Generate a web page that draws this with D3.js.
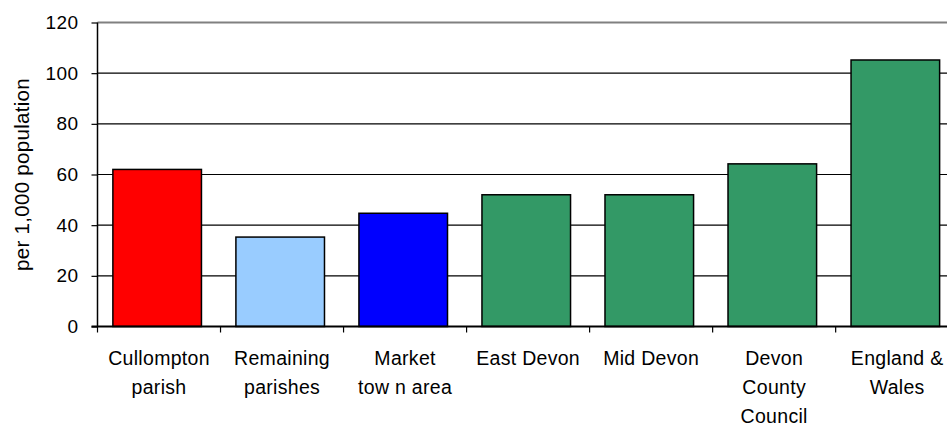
<!DOCTYPE html>
<html>
<head>
<meta charset="utf-8">
<script src="https://cdn.jsdelivr.net/npm/d3@7"></script>
<style>
  html, body { margin: 0; padding: 0; background: #fff; }
  svg { display: block; }
  text { font-family: "Liberation Sans", Arial, sans-serif; fill: #000; }
</style>
</head>
<body>
<svg id="chart" width="947" height="428"></svg>
<script>
// ---- Data ----
const categories = [
  ["Cullompton", "parish"],
  ["Remaining", "parishes"],
  ["Market", "tow n area"],
  ["East Devon"],
  ["Mid Devon"],
  ["Devon", "County", "Council"],
  ["England &", "Wales"]
];
const values = [62, 35.3, 44.7, 52, 52, 64.2, 105.2];
const barColors = ["#FF0000", "#99CCFF", "#0000FF", "#339966", "#339966", "#339966", "#339966"];
const yTicks = [0, 20, 40, 60, 80, 100, 120];
const yTitle = "per 1,000 population";

// ---- Layout ----
const svg = d3.select("#chart");
const mLeft = 97.5, mRight = 955, mTop = 22.5, mBottom = 326.5;

const x = d3.scaleBand()
  .domain(d3.range(categories.length))
  .range([mLeft, mRight])
  .paddingInner(0.28)
  .paddingOuter(0.125);

const y = d3.scaleLinear().domain([0, 120]).range([mBottom, mTop]);

// gridlines
svg.append("g")
  .selectAll("line")
  .data(yTicks.filter(d => d > 0 && d < 120))
  .join("line")
  .attr("x1", mLeft).attr("x2", mRight)
  .attr("y1", d => y(d)).attr("y2", d => y(d))
  .attr("stroke", "#000").attr("stroke-width", 1.2);

// top border (gray)
svg.append("line")
  .attr("x1", mLeft).attr("x2", mRight)
  .attr("y1", y(120)).attr("y2", y(120))
  .attr("stroke", "#808080").attr("stroke-width", 2);

// bars
svg.append("g")
  .selectAll("rect")
  .data(values)
  .join("rect")
  .attr("x", (d, i) => x(i))
  .attr("width", x.bandwidth())
  .attr("y", d => y(d))
  .attr("height", d => y(0) - y(d))
  .attr("fill", (d, i) => barColors[i])
  .attr("stroke", "#000")
  .attr("stroke-width", 1.5);

// y axis
const yAxis = d3.axisLeft(y).tickValues(yTicks).tickSize(6).tickPadding(13).tickFormat(d3.format("d"));
const gy = svg.append("g").attr("transform", `translate(${mLeft},0)`).call(yAxis);
gy.select(".domain").attr("stroke", "#000").attr("stroke-width", 1.5).attr("d", `M0,${y(120)}V${y(0)}`);
gy.selectAll(".tick line").attr("stroke", "#000").attr("stroke-width", 1.2);
gy.selectAll(".tick text")
  .attr("font-size", 19)
  .attr("letter-spacing", 0.4)
  .style("font-family", '"Liberation Sans", Arial, sans-serif')
  .attr("fill", "#000");

// x axis baseline
svg.append("line")
  .attr("x1", mLeft - 6).attr("x2", mRight)
  .attr("y1", y(0)).attr("y2", y(0))
  .attr("stroke", "#000").attr("stroke-width", 2);

// x ticks at category boundaries
const step = x.step();
const x0 = x.range()[0];
svg.append("g")
  .selectAll("line")
  .data(d3.range(categories.length + 1))
  .join("line")
  .attr("x1", i => x0 + i * step).attr("x2", i => x0 + i * step)
  .attr("y1", y(0)).attr("y2", y(0) + 6)
  .attr("stroke", "#000").attr("stroke-width", 1.2);

// category labels
const lab = svg.append("g")
  .selectAll("text")
  .data(categories)
  .join("text")
  .attr("text-anchor", "middle")
  .attr("font-size", 19.5)
  .attr("letter-spacing", 0.3)
  .attr("transform", (d, i) => `translate(${x0 + (i + 0.5) * step},0)`);
lab.selectAll("tspan")
  .data(d => d)
  .join("tspan")
  .attr("x", 0)
  .attr("y", (d, j) => 365 + j * 29)
  .text(d => d);

// y title
svg.append("text")
  .attr("transform", `translate(29,${(mTop + mBottom) / 2}) rotate(-90)`)
  .attr("text-anchor", "middle")
  .attr("font-size", 20.5)
  .attr("letter-spacing", 0.3)
  .text(yTitle);
</script>
</body>
</html>
